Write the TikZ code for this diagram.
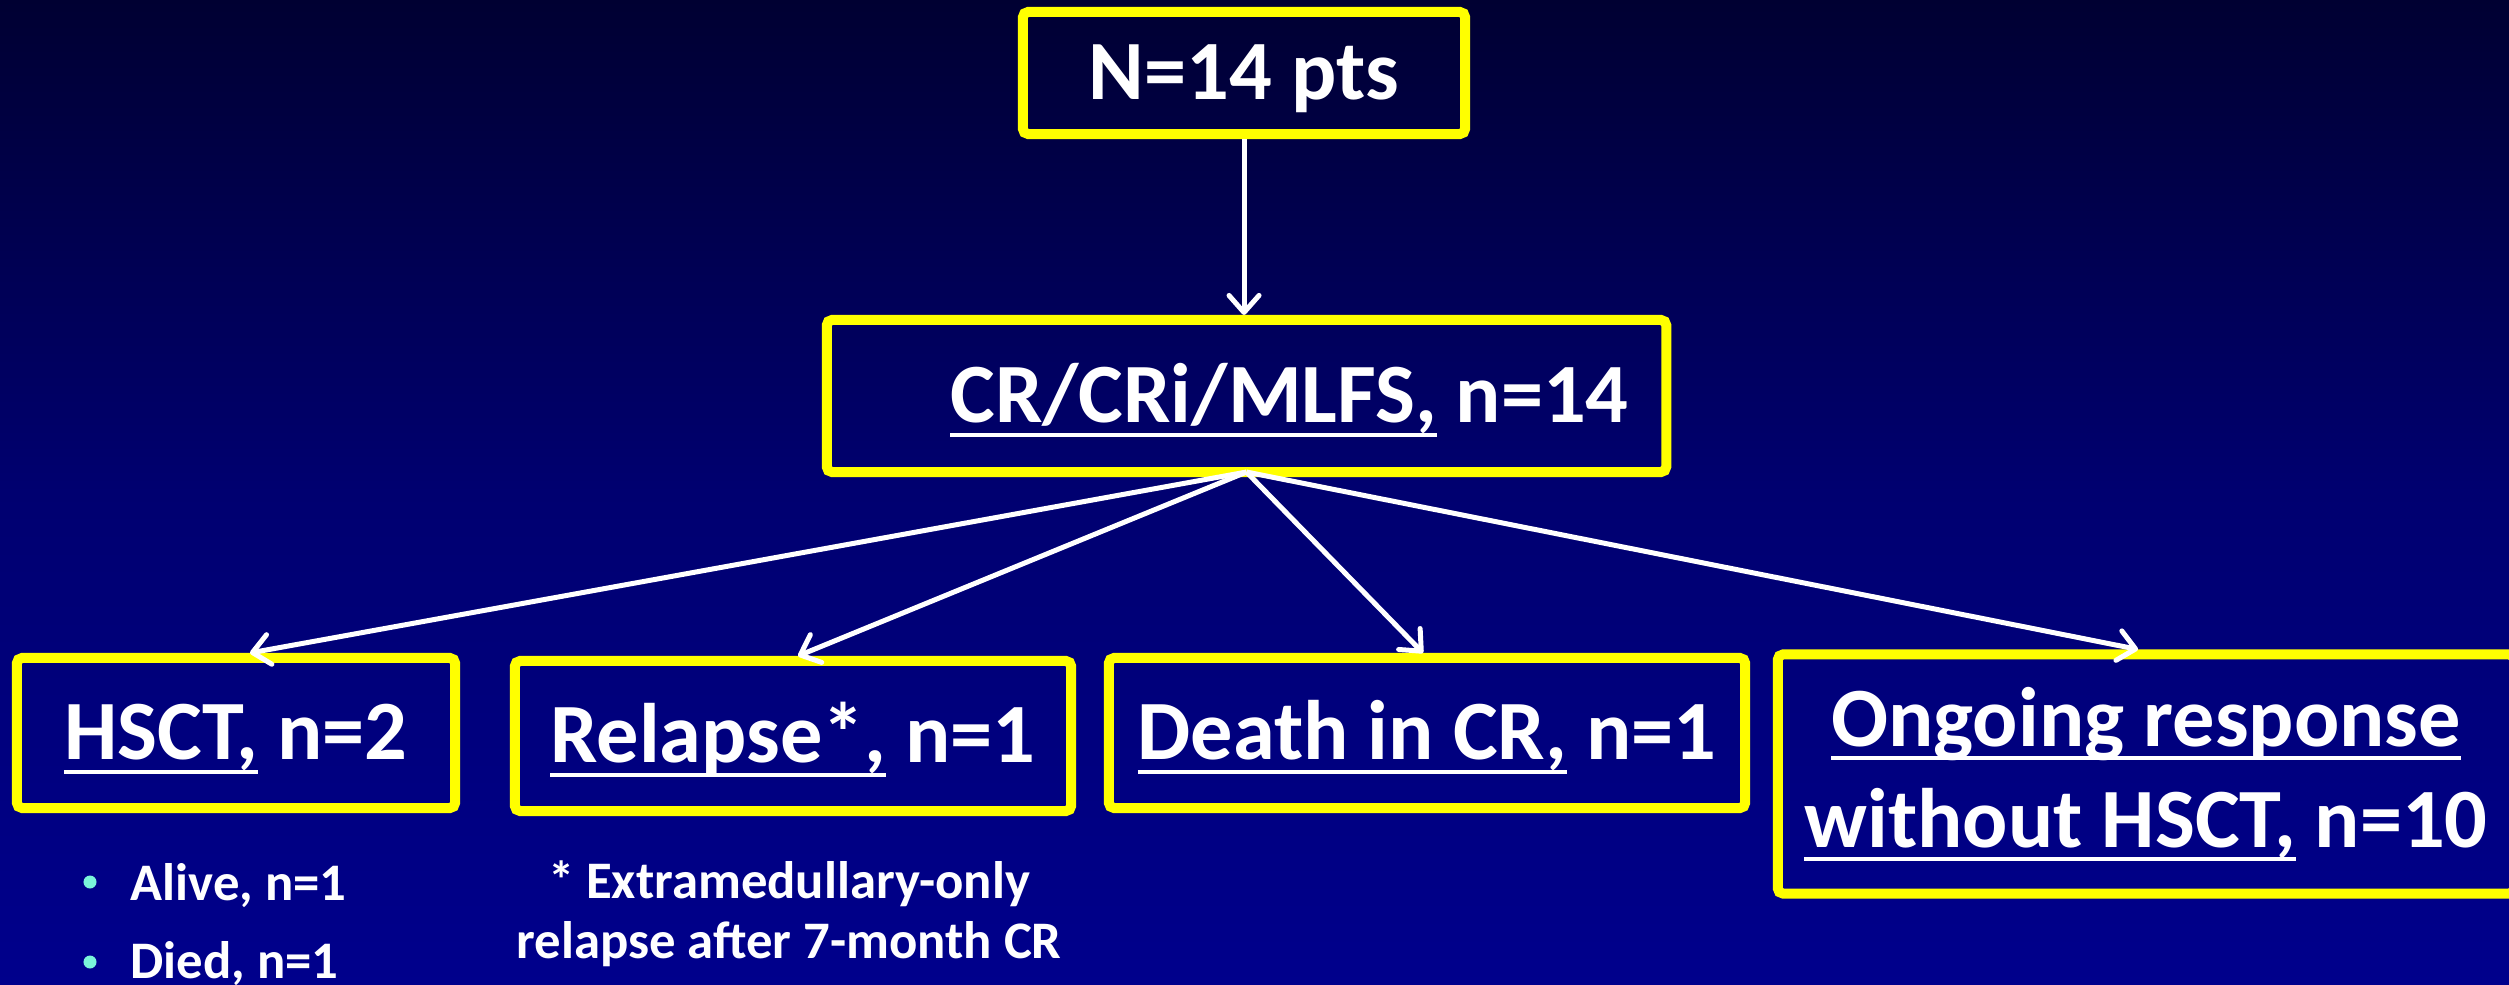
\documentclass[tikz,border=0pt]{standalone}
\usepackage{fontspec}
\setmainfont{Carlito}
\usepackage{xcolor}
\usepackage{tikz}
\usetikzlibrary{arrows.meta,positioning}
\definecolor{bgtop}{RGB}{0,0,50}
\definecolor{bgmid}{RGB}{0,0,112}
\definecolor{bgbot}{RGB}{0,0,140}
\definecolor{boxyellow}{RGB}{255,255,0}
\definecolor{bulletaqua}{RGB}{122,244,218}
\newsavebox{\ulbox}
\newcommand{\uln}[1]{\sbox{\ulbox}{#1}\rlap{\rule[-3.98pt]{\wd\ulbox}{1.14pt}}\usebox{\ulbox}}

\begin{document}
\begin{tikzpicture}[x=0.01cm,y=-0.01cm,
          box/.style={draw=boxyellow,line width=0.1cm,rounded corners=1.5pt,text=white,
            font=\fontsize{24}{28.7}\selectfont\bfseries},
          onebox/.style={box,text height=15.2pt,text depth=0pt},
          flow/.style={-{Straight Barb[length=0.17cm,width=0.3cm,round]},draw=white,line width=0.05cm},
          note/.style={text=white,inner sep=0pt,font=\fontsize{15}{17}\selectfont\bfseries},
          dot/.style={circle,fill=bulletaqua,inner sep=0pt,minimum size=0.13cm}
          ]
          % the background
          \useasboundingbox (0,0) rectangle (2509,985);
          \shade[top color=bgtop,bottom color=bgbot,middle color=bgmid] (0,0) rectangle (2509,985);
          % the patients and the responders
          \node[onebox,minimum width=4.42cm,minimum height=1.22cm] (pts) at (1244,73) {N=14 pts};
          \node[onebox,minimum width=8.39cm,minimum height=1.52cm] (cr) at (1246.5,396)
            {\hspace*{0.86cm}\uln{CR/CRi/MLFS,} n=14};
          % the outcomes
          \node[onebox,minimum width=4.38cm,minimum height=1.50cm] (hsct) at (236,733) {\uln{HSCT,} n=2};
          \node[onebox,minimum width=5.56cm,minimum height=1.50cm] (relapse) at (793,736) {\uln{Relapse*,} n=1};
          \node[onebox,minimum width=6.36cm,minimum height=1.50cm] (death) at (1427,733) {\uln{Death in CR,} n=1};
          \node[box,align=center,minimum width=7.36cm,minimum height=2.39cm] (ongoing) at (2146,774)
            {\uln{Ongoing response}\\\uln{without HSCT,} n=10};
          % the notes below
          \foreach \i/\who/\yd/\yb in {1/Alive/882/900,2/Died/962/978}
          {
            \node[dot] (b\i) at (90,\yd) {};
            \node[note,anchor=base west] (s\i) at (130,\yb) {\who, n=1};
          }
          \node[note,anchor=base] (fn1) at (789,898) {* Extramedullary-only};
          \node[note,anchor=base] (fn2) at (789,958) {relapse after 7-month CR};
          % the edges
          \coordinate (fork) at ([yshift=0.05cm]cr.south);
          \draw[flow] (pts.south) -- (pts.south |- cr.north);
          \draw[flow] (fork) -- ([xshift=0.14cm]hsct.north);
          \draw[flow] (fork) -- ([xshift=0.05cm]relapse.north);
          \draw[flow] (fork) -- ([xshift=-0.04cm]death.north);
          \draw[flow] (fork) -- ([xshift=-0.08cm]ongoing.north);
        \end{tikzpicture}
\end{document}
